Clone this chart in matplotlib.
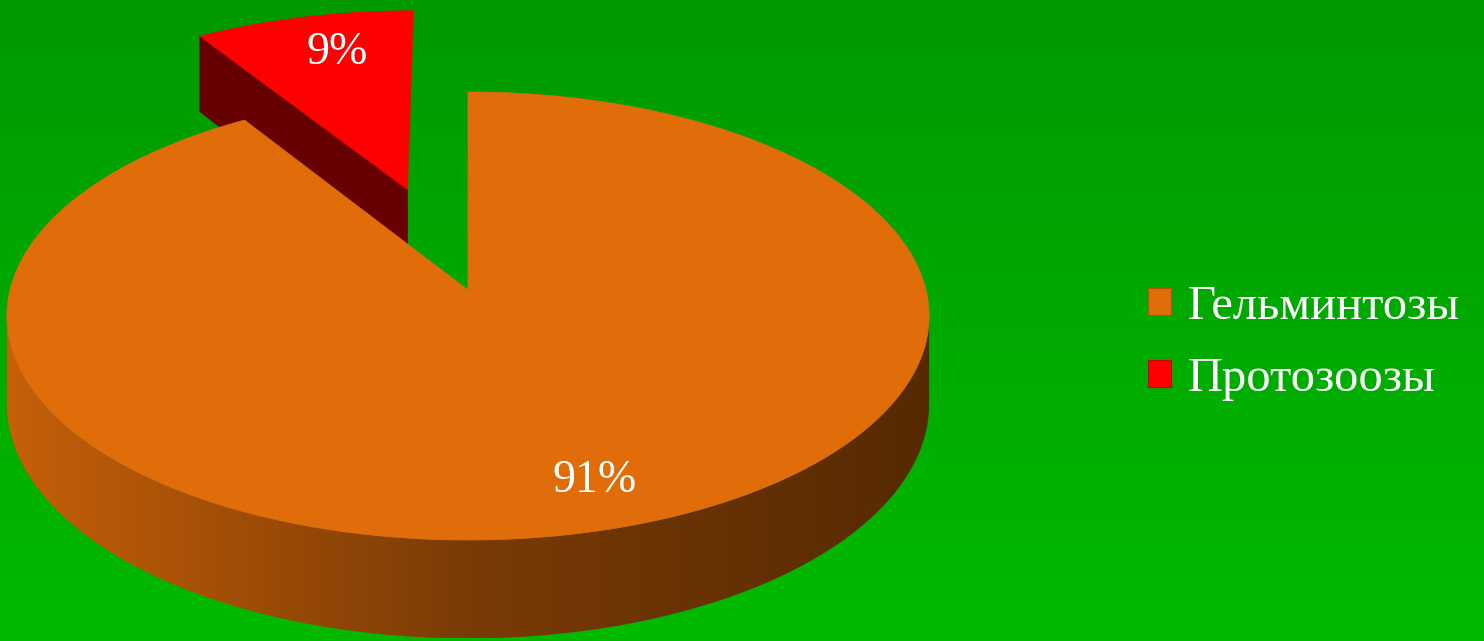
import numpy as np
import matplotlib
matplotlib.use("Agg")
import matplotlib.pyplot as plt
from matplotlib.patches import Polygon, Patch
from matplotlib.font_manager import FontProperties
from matplotlib.colors import to_rgb

# ---------------- data ----------------
categories = ["Гельминтозы", "Протозоозы"]
shares = [91, 9]
pct_labels = ["91%", "9%"]
top_colors = ["#e06c0a", "#ff0000"]
legend_edges = ["#b05508", "#cc0000"]
explode = [0.0, 0.5]

# ---------------- layout / style ----------------
W, H = 1484, 641
CX, CY = 468, 290          # projected pie centre (pixels)
SX, SY = 458, 221          # horizontal radius, depth scale
TH = 87                    # thickness scale
K = 0.116                  # perspective strength
CAM_D = -1.0 / K           # camera depth position
wall_shade_x = [12, 470, 928]
wall_shade_f = [0.88, 0.545, 0.385]
radial_shade = 0.40
label_r = 0.8
label_dx = 14              # small horizontal nudge of percent labels (pixels)

fig = plt.figure(figsize=(W / 100, H / 100), dpi=100)
ax = fig.add_axes([0, 0, 1, 1])
ax.axis("off")

# background vertical gradient
g = np.linspace(0, 1, 256)[:, None]
top_bg = np.array(to_rgb("#009900"))
bot_bg = np.array(to_rgb("#00ba00"))
bg = top_bg[None, None, :] * (1 - g[..., None]) + bot_bg[None, None, :] * g[..., None]
bg = np.repeat(bg, 2, axis=1)
ax.imshow(bg, extent=[0, W, H, 0], aspect="auto", zorder=0, interpolation="bilinear")


def proj(x, d, z):
    w = 1 + K * d
    return CX + SX * x / w, CY - (SY * d + TH * z) / w


def shade_img(base, x0, x1):
    xs = np.linspace(x0, x1, 400)
    f = np.interp(xs, wall_shade_x, wall_shade_f)
    rgb = np.array(to_rgb(base))[None, :] * f[:, None]
    return np.repeat(rgb[None, :, :], 2, axis=0)


fr = np.array(shares, dtype=float) / sum(shares)
cum = np.concatenate([[0], np.cumsum(fr)])
slices = []
for i in range(len(shares)):
    t1 = np.radians(90 - 360 * cum[i])
    t2 = np.radians(90 - 360 * cum[i + 1])
    mid = (t1 + t2) / 2
    ox, od = explode[i] * np.cos(mid), explode[i] * np.sin(mid)
    depth = od + 0.5 * np.sin(mid)
    slices.append((depth, i, t1, t2, mid, ox, od))

slices.sort(key=lambda s: -s[0])
z = 1
for depth, i, t1, t2, mid, ox, od in slices:
    ts = np.linspace(t2, t1, 600)
    rx, rd = ox + np.cos(ts), od + np.sin(ts)
    # outer wall (front-facing part)
    vis = (np.cos(ts) * (0 - rx) + np.sin(ts) * (CAM_D - rd)) > 0
    if vis.any():
        idx = np.where(vis)[0]
        runs = np.split(idx, np.where(np.diff(idx) > 1)[0] + 1)
        for run in runs:
            if len(run) < 2:
                continue
            tx, ty = proj(rx[run], rd[run], 0)
            bx, by = proj(rx[run], rd[run], -1)
            pts = np.column_stack([np.concatenate([tx, bx[::-1]]),
                                   np.concatenate([ty, by[::-1]])])
            poly = Polygon(pts, closed=True, facecolor="none", edgecolor="none", zorder=z)
            ax.add_patch(poly)
            img = shade_img(top_colors[i], pts[:, 0].min(), pts[:, 0].max())
            im = ax.imshow(img, extent=[pts[:, 0].min(), pts[:, 0].max(),
                                        pts[:, 1].max(), pts[:, 1].min()],
                           aspect="auto", zorder=z, interpolation="bilinear")
            im.set_clip_path(poly)
            z += 1
    # radial faces
    for t, ndir in ((t2, t2 - np.pi / 2), (t1, t1 + np.pi / 2)):
        px, pd = ox + 0.5 * np.cos(t), od + 0.5 * np.sin(t)
        vx, vd = 0 - px, CAM_D - pd
        dot = (np.cos(ndir) * vx + np.sin(ndir) * vd) / np.hypot(vx, vd)
        if dot > 0.05:
            ex, ed = ox + np.cos(t), od + np.sin(t)
            p = [proj(ox, od, 0), proj(ex, ed, 0), proj(ex, ed, -1), proj(ox, od, -1)]
            col = np.array(to_rgb(top_colors[i])) * radial_shade
            ax.add_patch(Polygon(p, closed=True, facecolor=col, edgecolor=col,
                                 linewidth=0.5, zorder=z))
            z += 1
    # top face
    tx, ty = proj(rx, rd, 0)
    c0 = proj(ox, od, 0)
    pts = np.column_stack([np.concatenate([[c0[0]], tx]), np.concatenate([[c0[1]], ty])])
    ax.add_patch(Polygon(pts, closed=True, facecolor=top_colors[i],
                         edgecolor=top_colors[i], linewidth=0.5, zorder=z))
    z += 1

# percent labels
for depth, i, t1, t2, mid, ox, od in slices:
    lx, ly = proj(ox + label_r * np.cos(mid), od + label_r * np.sin(mid), 0)
    ax.text(lx + label_dx, ly + 4, pct_labels[i], color="white", fontsize=33,
            family=["Liberation Serif", "DejaVu Serif"], ha="center", va="center",
            zorder=z + 5)

ax.set_xlim(0, W)
ax.set_ylim(H, 0)

handles = [Patch(facecolor=c, edgecolor=e, linewidth=0.8)
           for c, e in zip(top_colors, legend_edges)]
fig.legend(handles=handles, labels=categories, loc="center left",
           bbox_to_anchor=(1148 / W, 1 - 343 / H), frameon=False,
           prop=FontProperties(family=["Liberation Serif", "DejaVu Serif"], size=35),
           labelcolor="white", handlelength=0.48, handleheight=0.48,
           handletextpad=0.33, labelspacing=0.58, borderpad=0, borderaxespad=0)

fig.savefig("out.png", dpi=100)
